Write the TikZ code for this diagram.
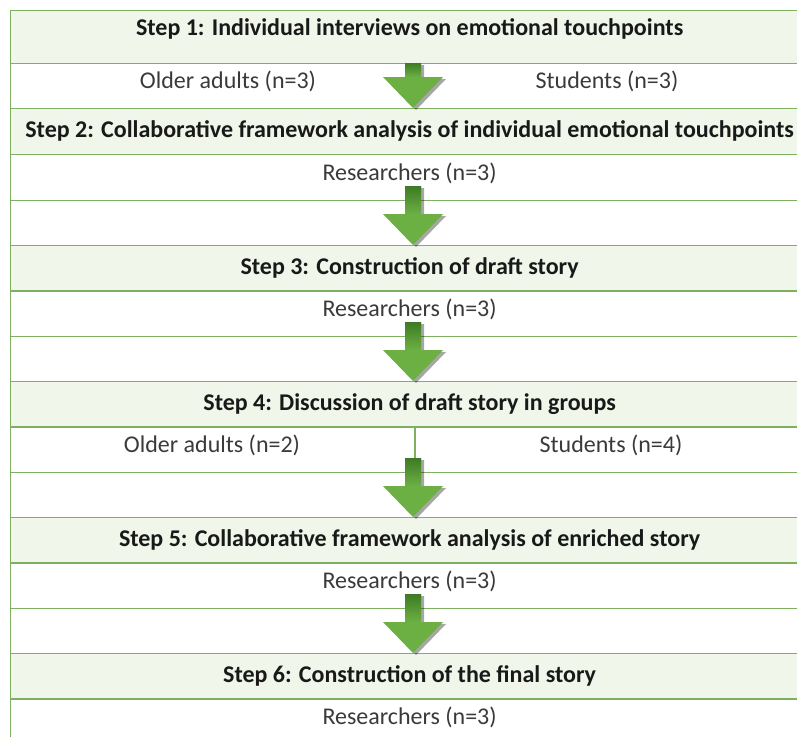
\documentclass[tikz,border=0pt]{standalone}
\usepackage{fontspec}
\setmainfont{Carlito}
\usetikzlibrary{shadows}
\definecolor{tline}{HTML}{7DB060}
\definecolor{hfill}{HTML}{F0F6EA}
\definecolor{agreen}{HTML}{6CB043}
\definecolor{adark}{HTML}{3E7A25}
\definecolor{ptext}{HTML}{3A3A3A}
% block arrow: #1 top of shaft, #2 tip
\newcommand\dnarrow[2]{\path[blockarrow] ([xshift=-8pt]#1) -- ([xshift=8pt]#1) -- ([xshift=8pt,yshift=31pt]#2) -- ([xshift=30pt,yshift=31pt]#2) -- (#2) -- ([xshift=-30pt,yshift=31pt]#2) -- ([xshift=-8pt,yshift=31pt]#2) -- cycle;
 \shade[top color=adark, bottom color=agreen] ([xshift=-8pt]#1) rectangle ([xshift=8pt,yshift=31pt]#2);}
\begin{document}
\begin{tikzpicture}[x=1pt,y=-1pt,
 row/.style={draw=tline, line width=1.2pt, minimum width=798pt, minimum height=#1, anchor=north west, inner sep=0pt, text depth=11pt, text=ptext, font=\fontsize{24}{28}\selectfont},
 row/.default=45.5pt,
 hdr/.style={row=#1, fill=hfill, text depth=5pt, text=black!90, font=\bfseries\fontsize{24}{28}\selectfont},
 hdr/.default=45.5pt,
 txt/.style={inner sep=0pt, text=ptext, font=\fontsize{24}{28}\selectfont},
 blockarrow/.style={fill=agreen, drop shadow={shadow xshift=3pt, shadow yshift=-2pt, opacity=.35, fill=black}}]
\clip (0,0) rectangle (797,736);
% rows of the table
\node[hdr=53pt, text depth=21pt] (s1) at (10,10) {Step 1: Individual interviews on emotional touchpoints};
\node[row] (p1) at (10,63) {};
\node[txt] (o1) at (228,81) {Older adults (n=3)};
\node[txt] (st1) at (607,81) {Students (n=3)};
\node[hdr] (s2) at (10,108) {Step 2: Collaborative framework analysis of individual emotional touchpoints};
\node[row] (p2) at (10,154) {Researchers (n=3)};
\node[row] (g2) at (10,199.5) {};
\node[hdr] (s3) at (10,245) {Step 3: Construction of draft story};
\node[row] (p3) at (10,290) {Researchers (n=3)};
\node[row] (g3) at (10,335.5) {};
\node[hdr] (s4) at (10,381) {Step 4: Discussion of draft story in groups};
\node[row] (p4) at (10,426) {};
\node[txt] (o4) at (212,445) {Older adults (n=2)};
\node[txt] (st4) at (611,445) {Students (n=4)};
\draw[tline, line width=1.2pt] (415,426) -- (415,471.5);
\node[row] (g4) at (10,471.5) {};
\node[hdr] (s5) at (10,517) {Step 5: Collaborative framework analysis of enriched story};
\node[row] (p5) at (10,562) {Researchers (n=3)};
\node[row] (g5) at (10,607.5) {};
\node[hdr] (s6) at (10,653) {Step 6: Construction of the final story};
\node[row] (p6) at (10,698) {Researchers (n=3)};
% arrows between the steps
\coordinate (a1) at (413,63);
\coordinate (a2) at (413,186);
\coordinate (a3) at (413,322);
\coordinate (a4) at (413,458);
\coordinate (a5) at (413,594);
\foreach \a/\s in {a1/s2, a2/s3, a3/s4, a4/s5, a5/s6} {
 \coordinate (t) at (\s.north -| \a);
 \dnarrow{\a}{t}
}
\end{tikzpicture}
\end{document}
